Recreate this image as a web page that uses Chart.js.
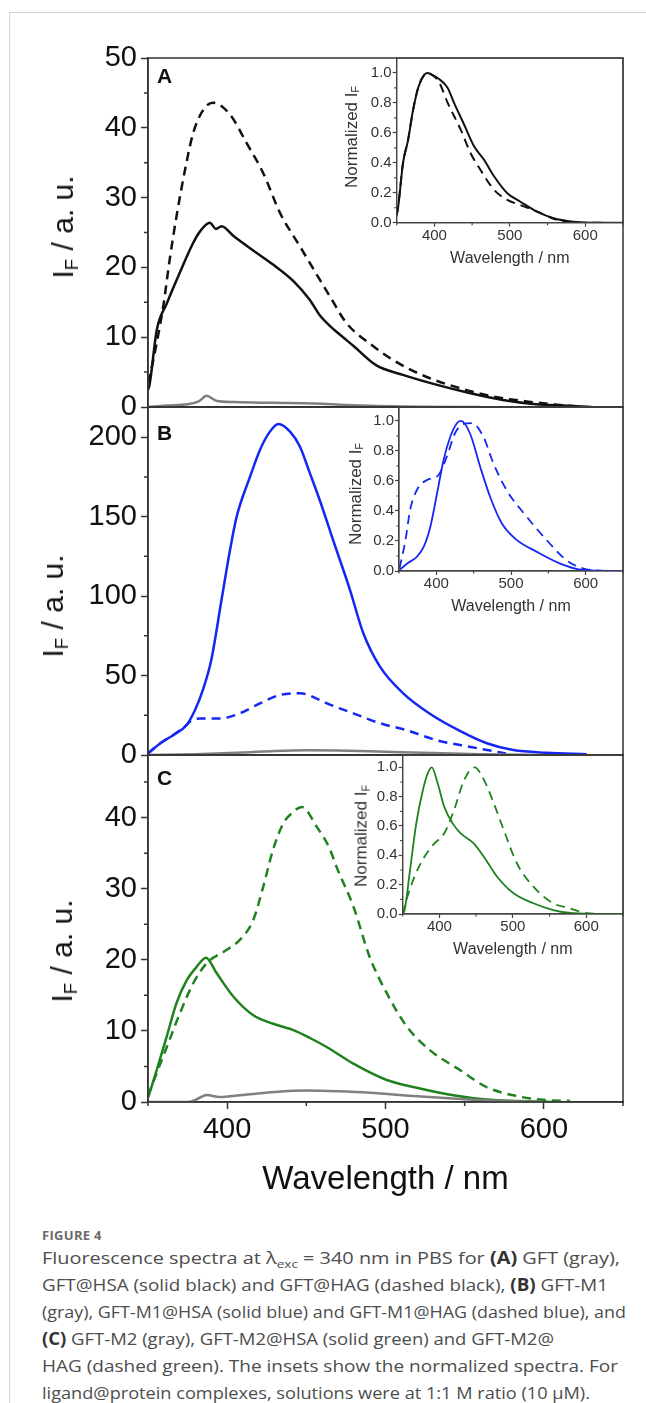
<!DOCTYPE html>
<html><head><meta charset="utf-8">
<script src="https://cdn.jsdelivr.net/npm/chart.js@4.4.1/dist/chart.umd.min.js"></script>
<style>
html,body{margin:0;padding:0;background:#fff;}
body{width:646px;height:1403px;position:relative;overflow:hidden;font-family:"Liberation Sans",Arial,sans-serif;}
canvas{position:absolute;}
.frame{position:absolute;left:9px;top:12px;width:640px;height:1400px;border-left:1px solid #d4d4d4;border-top:1px solid #d4d4d4;}
.ytitle{position:absolute;white-space:nowrap;transform:translate(-50%,-50%) rotate(-90deg);color:#111;line-height:1;}
.ytitle sub{font-size:62%;vertical-align:-0.28em;line-height:0;}
.ins{color:#333;font-size:17px;}
.main{font-size:30px;}
.letter{position:absolute;font-weight:bold;font-size:21px;line-height:21px;color:#111;}
.cap{position:absolute;left:42px;top:1226px;color:#4d4d4d;font-family:"Open Sans",sans-serif;font-size:17px;line-height:27px;white-space:nowrap;}
.cap .fig{font-size:13px;font-weight:bold;color:#6a6a6a;line-height:18px;letter-spacing:0.3px;}
.cap .ln{display:block;width:max-content;transform-origin:0 50%;}
.cap b{color:#333;font-weight:bold;}
.cap sub{font-size:68%;line-height:0;}
</style></head>
<body>
<div class="frame"></div>
<canvas id="mainA"></canvas>
<canvas id="mainB"></canvas>
<canvas id="mainC"></canvas>
<canvas id="insA"></canvas>
<canvas id="insB"></canvas>
<canvas id="insC"></canvas>

<div class="ytitle main" style="left:63px;top:227px;">I<sub>F</sub> / a. u.</div>
<div class="ytitle main" style="left:53px;top:606px;">I<sub>F</sub> / a. u.</div>
<div class="ytitle main" style="left:62px;top:951px;">I<sub>F</sub> / a. u.</div>
<div class="ytitle ins" style="left:351px;top:137px;">Normalized I<sub>F</sub></div>
<div class="ytitle ins" style="left:355px;top:494px;">Normalized I<sub>F</sub></div>
<div class="ytitle ins" style="left:361px;top:836px;">Normalized I<sub>F</sub></div>
<div class="letter" style="left:157px;top:65px;">A</div>
<div class="letter" style="left:157px;top:422px;">B</div>
<div class="letter" style="left:157px;top:767px;">C</div>

<div class="cap">
<div class="fig">FIGURE 4</div>
<span class="ln">Fluorescence spectra at λ<sub>exc</sub> = 340 nm in PBS for <b>(A)</b> GFT (gray),</span>
<span class="ln">GFT@HSA (solid black) and GFT@HAG (dashed black), <b>(B)</b> GFT-M1</span>
<span class="ln">(gray), GFT-M1@HSA (solid blue) and GFT-M1@HAG (dashed blue), and</span>
<span class="ln"><b>(C)</b> GFT-M2 (gray), GFT-M2@HSA (solid green) and GFT-M2@</span>
<span class="ln">HAG (dashed green). The insets show the normalized spectra. For</span>
<span class="ln">ligand@protein complexes, solutions were at 1:1 M ratio (10 μM).</span>
</div>

<script>
// ---------- DATA (wavelength in nm, intensity) ----------
// Panel A
const wlA_gray = [350, 362, 375, 382, 387, 393, 405, 430, 455, 475, 495, 520, 560];
const IA_gray  = [0, 0.2, 0.4, 0.8, 1.6, 0.9, 0.7, 0.6, 0.5, 0.3, 0.15, 0.05, 0];
const wlA_HSA  = [350, 351, 355.5, 362, 370, 378.5, 383, 389, 393, 396.5, 404, 416, 429, 442, 452, 459, 465, 470, 480, 494, 511, 532, 553, 574, 595, 612, 630];
const IA_HSA   = [2.5, 3.2, 11, 14.9, 19.2, 23.5, 25.2, 26.4, 25.5, 25.9, 24.5, 22.5, 20.4, 18, 15.4, 13.0, 11.6, 10.6, 8.7, 6.0, 4.6, 3.2, 2.0, 1.0, 0.4, 0.2, 0];
const wlA_HAG  = [350, 351, 355.5, 359.6, 364, 368, 373.4, 378.6, 385, 391, 401.8, 412.3, 422.8, 433.4, 446, 458.6, 465, 475.4, 490, 505, 526, 547, 568, 589, 610, 625];
const IA_HAG   = [3.5, 4.3, 9.2, 14.4, 21.6, 27.3, 34, 39.3, 42.6, 43.6, 41.9, 37.8, 33.5, 27.8, 23, 18.2, 15.8, 12, 9.1, 6.7, 4.3, 2.7, 1.5, 0.8, 0.3, 0];
// Inset A (normalized)
const wlNA_HSA = [350, 352, 358.4, 365, 371.6, 379, 387, 391, 396, 406, 417.6, 426, 439.5, 452.6, 465.8, 479, 496.6, 514, 536, 558, 584, 610, 650];
const NA_HSA   = [0.05, 0.107, 0.40, 0.55, 0.75, 0.91, 0.99, 1.0, 0.99, 0.96, 0.9, 0.8, 0.654, 0.51, 0.42, 0.31, 0.197, 0.14, 0.074, 0.03, 0.007, 0, 0];
const wlNA_HAG = [350, 352, 358.4, 365, 371.6, 379, 387, 391, 396, 406, 417.6, 435, 448, 461.4, 479, 496.6, 514, 536, 567, 600, 624];
const NA_HAG   = [0.05, 0.11, 0.40, 0.55, 0.75, 0.91, 0.99, 1.0, 0.99, 0.94, 0.8, 0.62, 0.464, 0.35, 0.22, 0.152, 0.118, 0.074, 0.013, 0, 0];
// Panel B
const wlB_gray = [350, 380, 410, 430, 450, 470, 500, 530, 560, 600];
const IB_gray  = [0, 0.5, 1.5, 2.5, 3, 2.8, 2, 1.2, 0.5, 0];
const wlB_HSA  = [350, 357.6, 366, 374.4, 379.7, 385, 390, 396.5, 401.8, 406, 414.4, 420.7, 427, 432.3, 439.7, 446, 452, 458.6, 467, 477.6, 486, 496.5, 511.2, 528, 547, 564, 580.7, 601.8, 627];
const IB_HSA   = [1, 7.3, 12.6, 18.9, 28.3, 42, 60, 98, 129, 150, 175, 192, 203.5, 208.3, 203.5, 194, 178, 160, 135, 103.8, 76.6, 55.6, 38.8, 26, 15.2, 7.4, 3.1, 1.4, 0.5];
const wlB_HAG  = [350, 357.6, 366, 374.4, 376.5, 383, 395.5, 408, 420.7, 433.4, 446, 458.6, 463, 479.7, 496.5, 513, 532, 553, 570, 576];
const IB_HAG   = [1, 7.3, 12.6, 18.9, 21, 23, 23, 26.2, 32.5, 37.8, 38.8, 34.6, 32.5, 26.2, 20, 15.7, 9.4, 5.2, 2.1, 1.0];
// Inset B (normalized)
const wlNB_HSA = [350.7, 361, 374, 383, 392, 401, 409.7, 418.7, 427.6, 433, 445, 458.7, 472, 487.6, 507.6, 534, 565, 596, 645];
const NB_HSA   = [0.007, 0.05, 0.095, 0.16, 0.295, 0.518, 0.74, 0.895, 0.985, 1.0, 0.918, 0.695, 0.495, 0.318, 0.207, 0.129, 0.051, 0.007, 0];
const wlNB_HAG = [350.7, 358.7, 365, 374, 387.6, 403, 414, 425, 436.4, 447.6, 463, 476.4, 494, 521, 547.6, 574, 596, 623];
const NB_HAG   = [0.018, 0.207, 0.41, 0.54, 0.607, 0.64, 0.762, 0.918, 0.98, 0.985, 0.895, 0.718, 0.54, 0.362, 0.207, 0.073, 0.018, 0];
// Panel C
const wlC_gray = [350, 375, 380, 387, 395, 410, 430, 450, 470, 490, 520, 550, 580, 600];
const IC_gray  = [0, 0, 0.3, 1.0, 0.7, 1.0, 1.4, 1.6, 1.5, 1.3, 0.8, 0.4, 0.1, 0];
const wlC_HSA  = [350.2, 355.5, 361.8, 368, 374.4, 380.7, 386.6, 393.4, 404, 416.5, 429, 441.8, 452.3, 463.9, 479.7, 500.8, 521.8, 542.8, 563.8, 585, 606];
const IC_HSA   = [0.7, 4.5, 9.2, 13.9, 17.1, 19, 20.3, 18.1, 14.8, 12.2, 11, 10.1, 9.0, 7.6, 5.4, 3.1, 1.9, 0.94, 0.34, 0.14, 0];
const wlC_HAG  = [350, 361.8, 370, 378.6, 387, 399.7, 408, 416.5, 422.8, 429, 435.5, 441.8, 447, 456.6, 465, 469, 479.7, 490, 500.8, 513.5, 528, 547, 563.8, 580.7, 597.6, 616.5];
const IC_HAG   = [0.9, 7.7, 12.4, 16.7, 19.5, 21.4, 22.8, 25.6, 30.3, 35.5, 39.2, 40.8, 41.5, 38.7, 35.5, 33.1, 27.5, 20.4, 15.3, 10.6, 7.3, 4.5, 2.1, 0.94, 0.34, 0.14];
// Inset C (normalized)
const wlNC_HSA = [350, 352.7, 359.4, 368.5, 377.5, 384.2, 389.6, 397.7, 406.6, 418, 429, 447, 460.5, 478.6, 501, 528, 555, 582, 622, 650];
const NC_HSA   = [0, 0.027, 0.277, 0.618, 0.845, 0.96, 1.0, 0.89, 0.73, 0.618, 0.55, 0.48, 0.39, 0.254, 0.141, 0.073, 0.027, 0.005, 0, 0];
const wlNC_HAG = [350, 355, 366, 379.6, 393, 406.6, 420, 433.6, 448, 460.8, 474, 487.6, 505.5, 528, 555, 577.5, 600, 636];
const NC_HAG   = [0, 0.095, 0.254, 0.39, 0.48, 0.55, 0.71, 0.913, 1.0, 0.913, 0.755, 0.573, 0.346, 0.186, 0.073, 0.039, 0.005, 0];

// tick values
const xMajor = [400, 500, 600];
const xMinor = [350, 450, 550, 650];
const yMajorA = [0, 10, 20, 30, 40, 50];
const yMinorA = [5, 15, 25, 35, 45];
const yMajorB = [0, 50, 100, 150, 200];
const yMinorB = [25, 75, 125, 175];
const yMajorC = [0, 10, 20, 30, 40];
const yMinorC = [5, 15, 25, 35, 45];
const yMajorN = [0, 0.2, 0.4, 0.6, 0.8, 1.0];
const yMinorN = [0.1, 0.3, 0.5, 0.7, 0.9];

// ---------- caption line widths (layout) ----------
const capWidths = [578, 566, 584, 512, 576, 548];
document.querySelectorAll('.cap .ln').forEach((el, i) => {
  const w = el.getBoundingClientRect().width;
  if (w > 0) el.style.transform = 'scaleX(' + (capWidths[i] / w) + ')';
});

// ---------- DRAWING ----------
const FONT = '"Liberation Sans", Arial, sans-serif';
const GRAY = '#808080', BLACK = '#111111', BLUE = '#1428f0', GREEN = '#1f821f';
const DASH = [9, 6];

function ds(xs, ys, color, dashed, w) {
  return {
    data: xs.map((x, i) => ({x: x, y: ys[i]})),
    borderColor: color, borderWidth: w, borderDash: dashed ? DASH : [],
    pointRadius: 0, fill: false, cubicInterpolationMode: 'monotone'
  };
}

const boxPlugin = {
  id: 'boxMinor',
  afterDraw(chart, args, o) {
    const ctx = chart.ctx, a = chart.chartArea;
    ctx.save();
    ctx.strokeStyle = o.color; ctx.lineWidth = o.width;
    ctx.strokeRect(a.left, a.top, a.right - a.left, a.bottom - a.top);
    const xs = chart.scales.x, ys = chart.scales.y;
    ctx.beginPath();
    (o.xMinor || []).forEach(v => { const p = xs.getPixelForValue(v); ctx.moveTo(p, a.bottom); ctx.lineTo(p, a.bottom + o.len); });
    (o.yMinor || []).forEach(v => { const p = ys.getPixelForValue(v); ctx.moveTo(a.left, p); ctx.lineTo(a.left - o.len, p); });
    ctx.stroke();
    ctx.restore();
  }
};

// rect = [left, top, width, height] page px; area = [left, top, right, bottom] page px
function makeChart(id, rect, area, o) {
  const cv = document.getElementById(id);
  cv.style.left = rect[0] + 'px'; cv.style.top = rect[1] + 'px';
  cv.width = rect[2]; cv.height = rect[3];
  const yW = area[0] - rect[0];
  const xH = (rect[1] + rect[3]) - area[3];
  const rBottom = rect[1] + rect[3];
  const xTitle = o.xTitle ? {
    display: true, text: o.xTitle, color: o.textColor,
    font: {family: FONT, size: o.xTitleSize},
    padding: {top: 0, bottom: (rBottom - o.xTitleY) - 0.6 * o.xTitleSize}
  } : {display: false};
  return new Chart(cv, {
    type: 'line',
    data: {datasets: o.datasets},
    options: {
      responsive: false, animation: false, devicePixelRatio: 1,
      layout: {padding: {left: 0, right: rect[0] + rect[2] - area[2], top: area[1] - rect[1], bottom: 0}},
      plugins: {
        legend: {display: false}, tooltip: {enabled: false},
        boxMinor: {color: o.axColor, width: o.axW, len: o.minorLen, xMinor: o.xLabels ? xMinor : [], yMinor: o.yMinor}
      },
      scales: {
        x: {
          type: 'linear', min: 350, max: 650,
          afterBuildTicks: s => { s.ticks = xMajor.map(v => ({value: v})); },
          afterFit: s => { s.height = xH; },
          ticks: {display: o.xLabels, font: {family: FONT, size: o.tickSize}, color: o.textColor, padding: o.xPad, maxRotation: 0, autoSkip: false},
          grid: {display: true, drawOnChartArea: false, drawTicks: o.xLabels, tickLength: o.tickLen, color: o.axColor, tickColor: o.axColor, tickWidth: o.axW},
          border: {display: true, color: o.axColor, width: o.axW},
          title: xTitle
        },
        y: {
          type: 'linear', min: 0, max: o.yMax,
          afterBuildTicks: s => { s.ticks = o.yMajor.map(v => ({value: v})); },
          afterFit: s => { s.width = yW; },
          ticks: {font: {family: FONT, size: o.tickSize}, color: o.textColor, padding: o.yPad, autoSkip: false,
                  callback: o.yFmt || (v => String(v))},
          grid: {display: true, drawOnChartArea: false, drawTicks: true, tickLength: o.tickLen, color: o.axColor, tickColor: o.axColor, tickWidth: o.axW},
          border: {display: true, color: o.axColor, width: o.axW}
        }
      }
    },
    plugins: [boxPlugin]
  });
}

const mainOpts = {tickSize: 29, textColor: '#111', axColor: '#333', axW: 1.5, tickLen: 7, minorLen: 4, xPad: 4, yPad: 4};
const insOpts  = {tickSize: 15, textColor: '#333', axColor: '#444', axW: 1.2, tickLen: 4, minorLen: 2.5, xPad: 0, yPad: 1,
                  xLabels: true, xTitle: 'Wavelength / nm', xTitleSize: 16, yMajor: yMajorN, yMinor: yMinorN, yFmt: v => v.toFixed(1)};

// Main panels
makeChart('mainA', [0, 0, 646, 430], [148, 58, 623, 407], Object.assign({}, mainOpts, {
  xLabels: false, yMax: 50, yMajor: yMajorA, yMinor: yMinorA,
  datasets: [ds(wlA_gray, IA_gray, GRAY, false, 2.5), ds(wlA_HSA, IA_HSA, BLACK, false, 2.5), ds(wlA_HAG, IA_HAG, BLACK, true, 2.5)]
}));
makeChart('mainB', [0, 380, 646, 400], [148, 407, 623, 755], Object.assign({}, mainOpts, {
  xLabels: false, yMax: 219, yMajor: yMajorB, yMinor: yMinorB,
  datasets: [ds(wlB_gray, IB_gray, GRAY, false, 2.5), ds(wlB_HSA, IB_HSA, BLUE, false, 2.5), ds(wlB_HAG, IB_HAG, BLUE, true, 2.5)]
}));
makeChart('mainC', [0, 720, 646, 500], [148, 755, 623, 1102], Object.assign({}, mainOpts, {
  xLabels: true, xTitle: 'Wavelength / nm', xTitleSize: 33, xTitleY: 1180, yMax: 48.8, yMajor: yMajorC, yMinor: yMinorC,
  datasets: [ds(wlC_gray, IC_gray, GRAY, false, 2.5), ds(wlC_HSA, IC_HSA, GREEN, false, 2.5), ds(wlC_HAG, IC_HAG, GREEN, true, 2.5)]
}));

// Insets
makeChart('insA', [300, 40, 346, 240], [396.7, 58, 623, 222.7], Object.assign({}, insOpts, {
  xTitleY: 259, yMax: 1.10,
  datasets: [ds(wlNA_HSA, NA_HSA, BLACK, false, 2), ds(wlNA_HAG, NA_HAG, BLACK, true, 2)]
}));
makeChart('insB', [300, 390, 346, 240], [399, 407, 623, 571], Object.assign({}, insOpts, {
  xTitleY: 607, yMax: 1.093,
  datasets: [ds(wlNB_HSA, NB_HSA, BLUE, false, 1.8), ds(wlNB_HAG, NB_HAG, BLUE, true, 1.8)]
}));
makeChart('insC', [300, 740, 346, 230], [402.7, 755, 623, 914], Object.assign({}, insOpts, {
  xTitleY: 950, yMax: 1.084,
  datasets: [ds(wlNC_HSA, NC_HSA, GREEN, false, 1.8), ds(wlNC_HAG, NC_HAG, GREEN, true, 1.8)]
}));
</script>
</body></html>
